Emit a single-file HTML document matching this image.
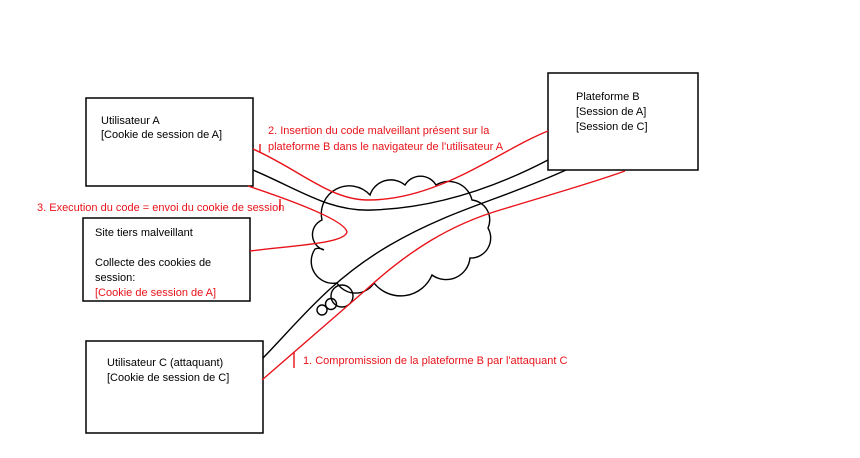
<!DOCTYPE html>
<html><head><meta charset="utf-8"><style>
html,body{margin:0;padding:0;background:#fff;}
svg{display:block;}
text{font-family:"Liberation Sans",sans-serif;font-size:11px;}
</style></head><body>
<svg width="860" height="458" viewBox="0 0 860 458" xmlns="http://www.w3.org/2000/svg">
<g fill="#fff" stroke="#000" stroke-width="1.5">
<rect x="86" y="98" width="167" height="88"/>
<rect x="548" y="73" width="150" height="97"/>
<rect x="83" y="218" width="167" height="83"/>
<rect x="86" y="341" width="177" height="92"/>
</g>
<g fill="none" stroke-width="1.4">
<path d="M324,250 A16,16 0 0 1 322,220 A28,28 0 0 1 370,195 A22,22 0 0 1 405,185 A18,18 0 0 1 436,185 A24,24 0 0 1 472,200 A20,20 0 0 1 488,228 A20,20 0 0 1 470,258 A24,24 0 0 1 432,275 A34,34 0 0 1 374,283 A22,22 0 0 1 337,283 A22,22 0 0 1 315,249 A10,10 0 0 1 324,250" stroke="#000"/>
<circle cx="342" cy="296" r="11" stroke="#000"/>
<circle cx="331" cy="304" r="5.5" stroke="#000"/>
<circle cx="322" cy="310" r="5" stroke="#000"/>
<path d="M253,170 C300,190 330,212 372,210 C440,208 500,185 548,160" stroke="#000"/>
<path d="M263,358 C300,320 330,280 390,245 C450,210 500,200 566,170" stroke="#000"/>
<path d="M253,149 C300,170 330,200 368,200 C440,200 500,150 548,131" stroke="#e8131a"/>
<path d="M248,186 C290,200 345,220 347,232 C345,243 300,245 250,251" stroke="#e8131a"/>
<path d="M262,380 L368,288 C410,250 450,225 500,210 C560,192 600,180 625,171" stroke="#e8131a"/>
<path d="M260,144 V153 M280,199 V210 M294,352 V368" stroke="#e8131a"/>
</g>
<g fill="#000">
<text x="101" y="124">Utilisateur A</text>
<text x="101" y="138">[Cookie de session de A]</text>
<text x="576" y="100">Plateforme B</text>
<text x="576" y="115">[Session de A]</text>
<text x="576" y="130">[Session de C]</text>
<text x="95" y="236">Site tiers malveillant</text>
<text x="95" y="266">Collecte des cookies de</text>
<text x="95" y="281">session:</text>
<text x="107" y="366">Utilisateur C (attaquant)</text>
<text x="107" y="381">[Cookie de session de C]</text>
</g>
<g fill="#e8131a">
<text x="95" y="296">[Cookie de session de A]</text>
<text x="268" y="134">2. Insertion du code malveillant présent sur la</text>
<text x="268" y="150">plateforme B dans le navigateur de l'utilisateur A</text>
<text x="37" y="211">3. Execution du code = envoi du cookie de session</text>
<text x="303" y="364">1. Compromission de la plateforme B par l'attaquant C</text>
</g>
</svg>
</body></html>
